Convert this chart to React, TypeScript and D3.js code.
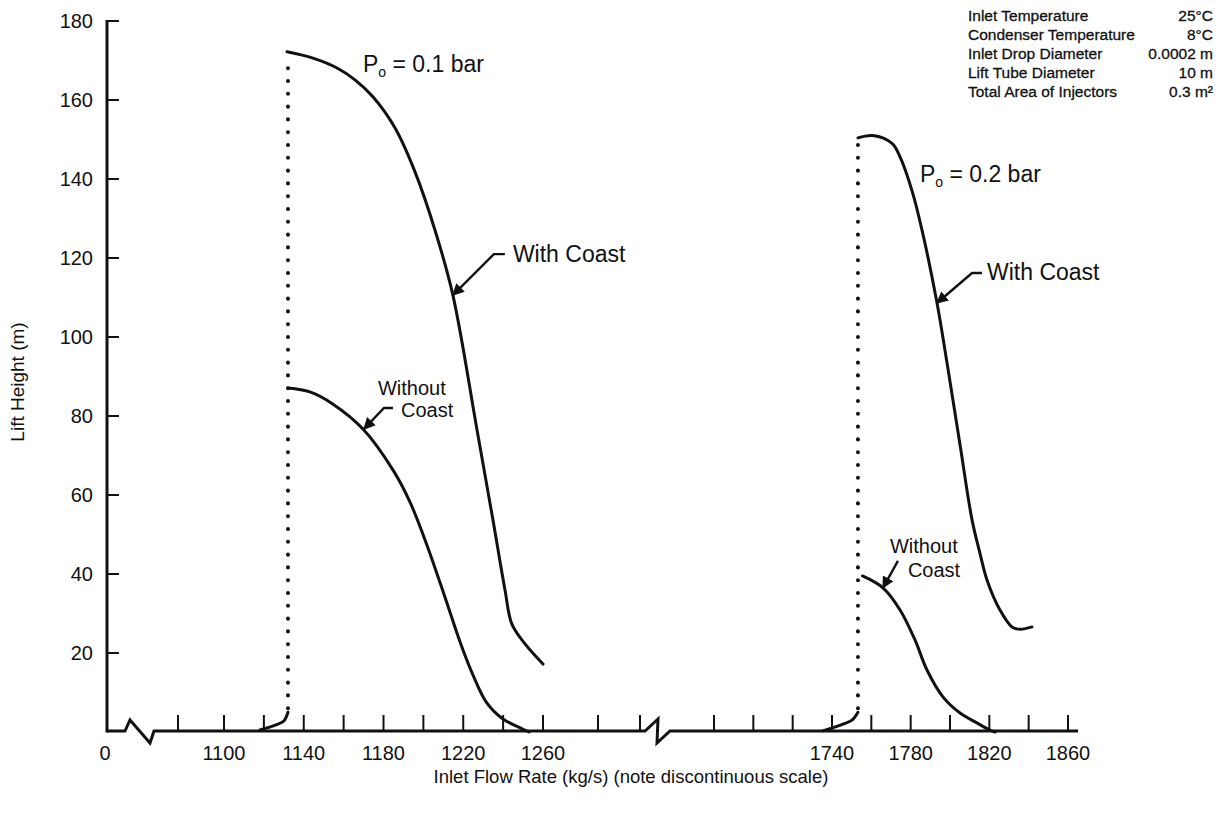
import React from "react";
import * as d3 from "d3";

// ---------- data ----------
const yTicks = [20, 40, 60, 80, 100, 120, 140, 160, 180];
const leftTicks = [1080, 1100, 1120, 1140, 1160, 1180, 1200, 1220, 1240, 1260, 1280, 1300];
const rightTicks = [1680, 1700, 1720, 1740, 1760, 1780, 1800, 1820, 1840, 1860];
const labeledTicks = [1100, 1140, 1180, 1220, 1260, 1740, 1780, 1820, 1860];

// P0 = 0.1 bar
const foot01: [number, number][] = [[1118, 0.5], [1126, 1.8], [1130, 2.8], [1132.1, 5]];
const withCoast01: [number, number][] = [
  [1131.6, 172.2], [1144.6, 170.6], [1156.7, 168.1], [1165.7, 165.1], [1174.7, 160.8],
  [1185.8, 152.9], [1195.8, 141.8], [1205.8, 127.1], [1214.8, 110.6], [1226.9, 76.5],
  [1234.9, 53.7], [1240.9, 36.1], [1244.4, 27.3], [1251.0, 22.3], [1260, 17.2],
];
const withoutCoast01: [number, number][] = [
  [1132.1, 87.1], [1143.1, 86.1], [1154.7, 83.0], [1169.7, 76.7], [1184.8, 66.3],
  [1193.3, 58.2], [1201.8, 47.3], [1210.8, 34.2], [1218.4, 22.8], [1224.9, 14.4],
  [1231.9, 7.3], [1239.9, 3.3], [1250.0, 0.7], [1253, 0],
];

// P0 = 0.2 bar
const foot02: [number, number][] = [[1735.4, 0.3], [1745.6, 2], [1750.2, 3], [1753.2, 5]];
const withCoast02: [number, number][] = [
  [1753.2, 150.4], [1760.8, 151], [1770.5, 149], [1774.6, 145.6], [1780.7, 137], [1785.8, 127],
  [1793.4, 108.6], [1798.5, 93.4], [1805.1, 72.7], [1811.2, 53.7], [1815.2, 45.3], [1818.8, 38.5],
  [1825.4, 30.9], [1831.5, 26.6], [1835.6, 26], [1841.7, 26.6],
];
const withoutCoast02: [number, number][] = [
  [1755.5, 39.5], [1765.9, 36.5], [1774.6, 30.9], [1782.2, 23.3], [1788.3, 15.7], [1796.4, 8.9],
  [1805.1, 4.8], [1813.7, 2.3], [1820.3, 0.5], [1823, 0],
];

const legendNames = ["Inlet Temperature", "Condenser Temperature", "Inlet Drop Diameter", "Lift Tube Diameter", "Total Area of Injectors"];
const legendValues = ["25°C", "8°C", "0.0002 m", "10 m", "0.3 m²"];

const FONT = "'Liberation Sans', Arial, Helvetica, sans-serif";

export default function App() {
  const W = 1225, H = 817;
  const y = d3.scaleLinear().domain([0, 180]).range([732, 21]);
  const xLeft = d3.scaleLinear().domain([1080, 1100, 1260, 1280, 1300]).range([178, 224, 543, 598, 640]);
  const xRight = d3.scaleLinear().domain([1680, 1860]).range([714, 1068]);
  const x = (v: number) => (v < 1500 ? xLeft(v) : xRight(v));
  const x0 = 107; // y-axis position (value 0)
  const base = y(0) - 1;

  const line = d3.line<[number, number]>().x((d) => x(d[0])).y((d) => y(d[1])).curve(d3.curveCatmullRom.alpha(0.5));

  // axis baseline with two breaks
  const baseline = d3.path();
  baseline.moveTo(x0, base);
  baseline.lineTo(125, base);
  baseline.lineTo(130, base - 11);
  baseline.lineTo(150, base + 12);
  baseline.lineTo(154, base);
  baseline.lineTo(645, base);
  baseline.lineTo(658, base - 12);
  baseline.lineTo(657, base + 12);
  baseline.lineTo(670, base);
  baseline.lineTo(1078, base);

  const tip1: [number, number] = [x(1214.8), y(110.6)];
  const tip2: [number, number] = [x(1793.4), y(108.6)];
  const tip3: [number, number] = [x(1169.7) + 1, y(76.7)];
  const tip4: [number, number] = [x(1765.9), y(36.5)];

  const textStyle = { fontFamily: FONT, fill: "#111" } as const;

  return (
    <svg width={W} height={H} style={{ position: "absolute", left: 0, top: 0, background: "#fff" }}>
      <defs>
        <marker id="ah" viewBox="0 0 10 10" refX="9" refY="5" markerWidth="5" markerHeight="5" orient="auto" markerUnits="strokeWidth">
          <path d="M0,0 L10,5 L0,10 z" fill="#111" />
        </marker>
      </defs>

      {/* y axis */}
      <line x1={x0} x2={x0} y1={y(180) - 1} y2={base + 1.5} stroke="#111" strokeWidth={3} />
      {yTicks.map((t) => (
        <g key={t}>
          <line x1={x0} x2={x0 + 12} y1={y(t)} y2={y(t)} stroke="#111" strokeWidth={2} />
          <text x={93} y={y(t) + 7} textAnchor="end" fontSize={20} style={textStyle}>{t}</text>
        </g>
      ))}

      {/* x axis */}
      <path d={baseline.toString()} fill="none" stroke="#111" strokeWidth={3} strokeLinejoin="miter" />
      {[...leftTicks, ...rightTicks].map((t) => (
        <line key={t} x1={x(t)} x2={x(t)} y1={base} y2={base - 16} stroke="#111" strokeWidth={2} />
      ))}
      <text x={x0 - 2} y={760} textAnchor="middle" fontSize={20} style={textStyle}>0</text>
      {labeledTicks.map((t) => (
        <text key={t} x={x(t)} y={760} textAnchor="middle" fontSize={20} style={textStyle}>{t}</text>
      ))}

      {/* axis titles */}
      <text x={631} y={783} textAnchor="middle" fontSize={18.5} style={textStyle}>
        Inlet Flow Rate (kg/s) (note discontinuous scale)
      </text>
      <text transform={`translate(24,382) rotate(-90)`} textAnchor="middle" fontSize={19} style={textStyle}>
        Lift Height (m)
      </text>

      {/* curves */}
      {[foot01, withCoast01, withoutCoast01, foot02, withCoast02, withoutCoast02].map((s, i) => (
        <path key={i} d={line(s) || ""} fill="none" stroke="#111" strokeWidth={3} strokeLinecap="round" />
      ))}
      {/* dotted verticals */}
      {[[foot01[foot01.length - 1], withCoast01[0]], [foot02[foot02.length - 1], withCoast02[0]]].map((p, i) => (
        <line key={i} x1={x(p[0][0])} x2={x(p[0][0])} y1={y(p[0][1]) - 4} y2={y(p[1][1]) + 4}
          stroke="#111" strokeWidth={4} strokeLinecap="round" strokeDasharray="0.1 12.7" />
      ))}

      {/* pressure labels */}
      <text x={x(1169.7)} y={y(167)} fontSize={23} style={textStyle}>
        P<tspan dy={5} fontSize={14}>o</tspan><tspan dy={-5}> = 0.1 bar</tspan>
      </text>
      <text x={x(1784.7)} y={y(139.2)} fontSize={23} style={textStyle}>
        P<tspan dy={5} fontSize={14}>o</tspan><tspan dy={-5}> = 0.2 bar</tspan>
      </text>

      {/* annotations */}
      <path d={`M${tip1[0] + 52},${tip1[1] - 41} H${tip1[0] + 41} L${tip1[0]},${tip1[1]}`} fill="none" stroke="#111" strokeWidth={2.4} markerEnd="url(#ah)" />
      <text x={tip1[0] + 60} y={tip1[1] - 33} fontSize={23} style={textStyle}>With Coast</text>

      <path d={`M${tip2[0] + 45},${tip2[1] - 30} H${tip2[0] + 35} L${tip2[0]},${tip2[1]}`} fill="none" stroke="#111" strokeWidth={2.4} markerEnd="url(#ah)" />
      <text x={tip2[0] + 50} y={tip2[1] - 23} fontSize={23} style={textStyle}>With Coast</text>

      <path d={`M${tip3[0] + 29},${tip3[1] - 21} H${tip3[0] + 20} L${tip3[0]},${tip3[1]}`} fill="none" stroke="#111" strokeWidth={2.4} markerEnd="url(#ah)" />
      <text x={tip3[0] + 14} y={tip3[1] - 34} fontSize={20} style={textStyle}>Without</text>
      <text x={tip3[0] + 37} y={tip3[1] - 12} fontSize={20} style={textStyle}>Coast</text>

      <path d={`M${tip4[0] + 15},${tip4[1] - 27} L${tip4[0]},${tip4[1]}`} fill="none" stroke="#111" strokeWidth={2.4} markerEnd="url(#ah)" />
      <text x={tip4[0] + 7} y={tip4[1] - 35} fontSize={20} style={textStyle}>Without</text>
      <text x={tip4[0] + 25} y={tip4[1] - 11} fontSize={20} style={textStyle}>Coast</text>

      {/* parameter legend */}
      {legendNames.map((n, i) => (
        <g key={n}>
          <text x={968} y={21 + i * 19} fontSize={15.5} style={textStyle} stroke="#111" strokeWidth={0.3}>{n}</text>
          <text x={1213} y={21 + i * 19} fontSize={15.5} textAnchor="end" style={textStyle} stroke="#111" strokeWidth={0.3}>{legendValues[i]}</text>
        </g>
      ))}
    </svg>
  );
}
